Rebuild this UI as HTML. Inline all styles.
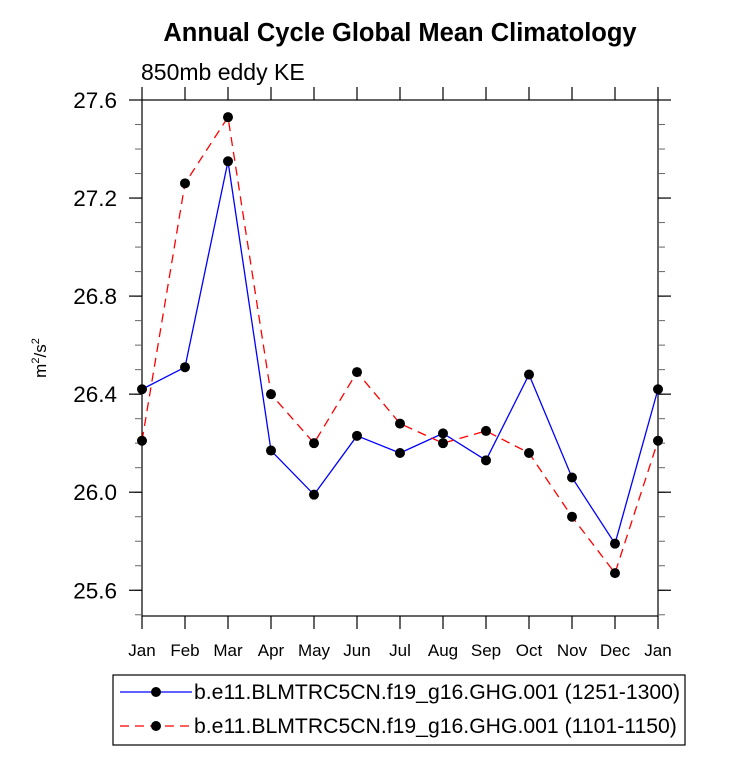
<!DOCTYPE html>
<html><head><meta charset="utf-8"><style>
body{margin:0;background:#fff;}
svg text{font-family:"Liberation Sans",sans-serif;}
</style></head><body>
<svg id="chart" width="733" height="766" xmlns="http://www.w3.org/2000/svg">
<text x="400" y="41" text-anchor="middle" font-size="25.5" font-weight="bold">Annual Cycle Global Mean Climatology</text>
<text x="141" y="80" font-size="23">850mb eddy KE</text>
<text transform="translate(46,358) rotate(-90)" text-anchor="middle" font-size="17">m<tspan dy="-7" font-size="11">2</tspan><tspan dy="7">/s</tspan><tspan dy="-7" font-size="11">2</tspan></text>
<g id="axes"></g>
<g id="series"></g>
<g>
<rect x="113" y="675" width="572" height="70" fill="#fff" stroke="#000" stroke-width="1.2"/>
<g>
<line x1="120" y1="692" x2="192" y2="692" stroke="#00f" stroke-width="1.3"/>
<circle cx="156" cy="692" r="5" fill="#000"/>
<text x="194" y="699" font-size="21.2">b.e11.BLMTRC5CN.f19_g16.GHG.001 (1251-1300)</text>
</g>
<g>
<line x1="120" y1="726" x2="192" y2="726" stroke="#f00" stroke-width="1.3" stroke-dasharray="9,6"/>
<circle cx="156" cy="726" r="5" fill="#000"/>
<text x="194" y="733" font-size="21.2">b.e11.BLMTRC5CN.f19_g16.GHG.001 (1101-1150)</text>
</g>
</g>
</svg>
<script>
const months = ["Jan","Feb","Mar","Apr","May","Jun","Jul","Aug","Sep","Oct","Nov","Dec","Jan"];
const blueValues = [26.42,26.51,27.35,26.17,25.99,26.23,26.16,26.24,26.13,26.48,26.06,25.79,26.42];
const redValues = [26.21,27.26,27.53,26.40,26.20,26.49,26.28,26.20,26.25,26.16,25.90,25.67,26.21];
const yTicks = [25.6,26.0,26.4,26.8,27.2,27.6];
const yMin = 25.495, yMax = 27.6;
const L=142,R=658,T=100,B=616;
const NS="http://www.w3.org/2000/svg";
function xs(i){return L+(R-L)*i/(months.length-1);}
function ys(v){return B-(v-yMin)/(yMax-yMin)*(B-T);}
function mk(tag,attrs,parent){const e=document.createElementNS(NS,tag);for(const k in attrs)e.setAttribute(k,attrs[k]);parent.appendChild(e);return e;}
const ax=document.getElementById('axes');
const fr=mk('rect',{x:L,y:T,width:R-L,height:B-T,fill:'none',stroke:'#000','stroke-width':1.2},ax);


months.forEach((m,i)=>{
  const x=xs(i);
  mk('line',{x1:x,y1:B,x2:x,y2:B+13,stroke:'#000','stroke-width':1.2},ax);
  mk('line',{x1:x,y1:T,x2:x,y2:T-13,stroke:'#000','stroke-width':1.2},ax);
  const t=mk('text',{x:x,y:B+40,'text-anchor':'middle','font-size':17},ax);
  t.textContent=m;
  
  
});
for(let v=25.5;v<=27.61;v+=0.1){
  const y=ys(v);
  mk('line',{x1:L,y1:y,x2:L-7,y2:y,stroke:'#666','stroke-width':1},ax);
  mk('line',{x1:R,y1:y,x2:R+7,y2:y,stroke:'#666','stroke-width':1},ax);
}
yTicks.forEach(v=>{
  const y=ys(v);
  mk('line',{x1:L,y1:y,x2:L-13,y2:y,stroke:'#000','stroke-width':1.2},ax);
  mk('line',{x1:R,y1:y,x2:R+13,y2:y,stroke:'#000','stroke-width':1.2},ax);
  const t=mk('text',{x:L-25,y:y+8,'text-anchor':'end','font-size':22.5},ax);
  t.textContent=v.toFixed(1);
  
  
});
const sg=document.getElementById('series');
function draw(vals,color,dash,name){
  const g=mk('g',{},sg);
  
  
  const pts=vals.map((v,i)=>xs(i)+','+ys(v)).join(' ');
  const attrs={points:pts,fill:'none',stroke:color,'stroke-width':1.3};
  if(dash)attrs['stroke-dasharray']=dash;
  mk('polyline',attrs,g);
  vals.forEach((v,i)=>{
    const c=mk('circle',{cx:xs(i),cy:ys(v),r:5,fill:'#000'},g);
    
    
  });
}
draw(blueValues,'#00f',null,'series-1251-1300');
draw(redValues,'#f00','9,6','series-1101-1150');
</script>
</body></html>
